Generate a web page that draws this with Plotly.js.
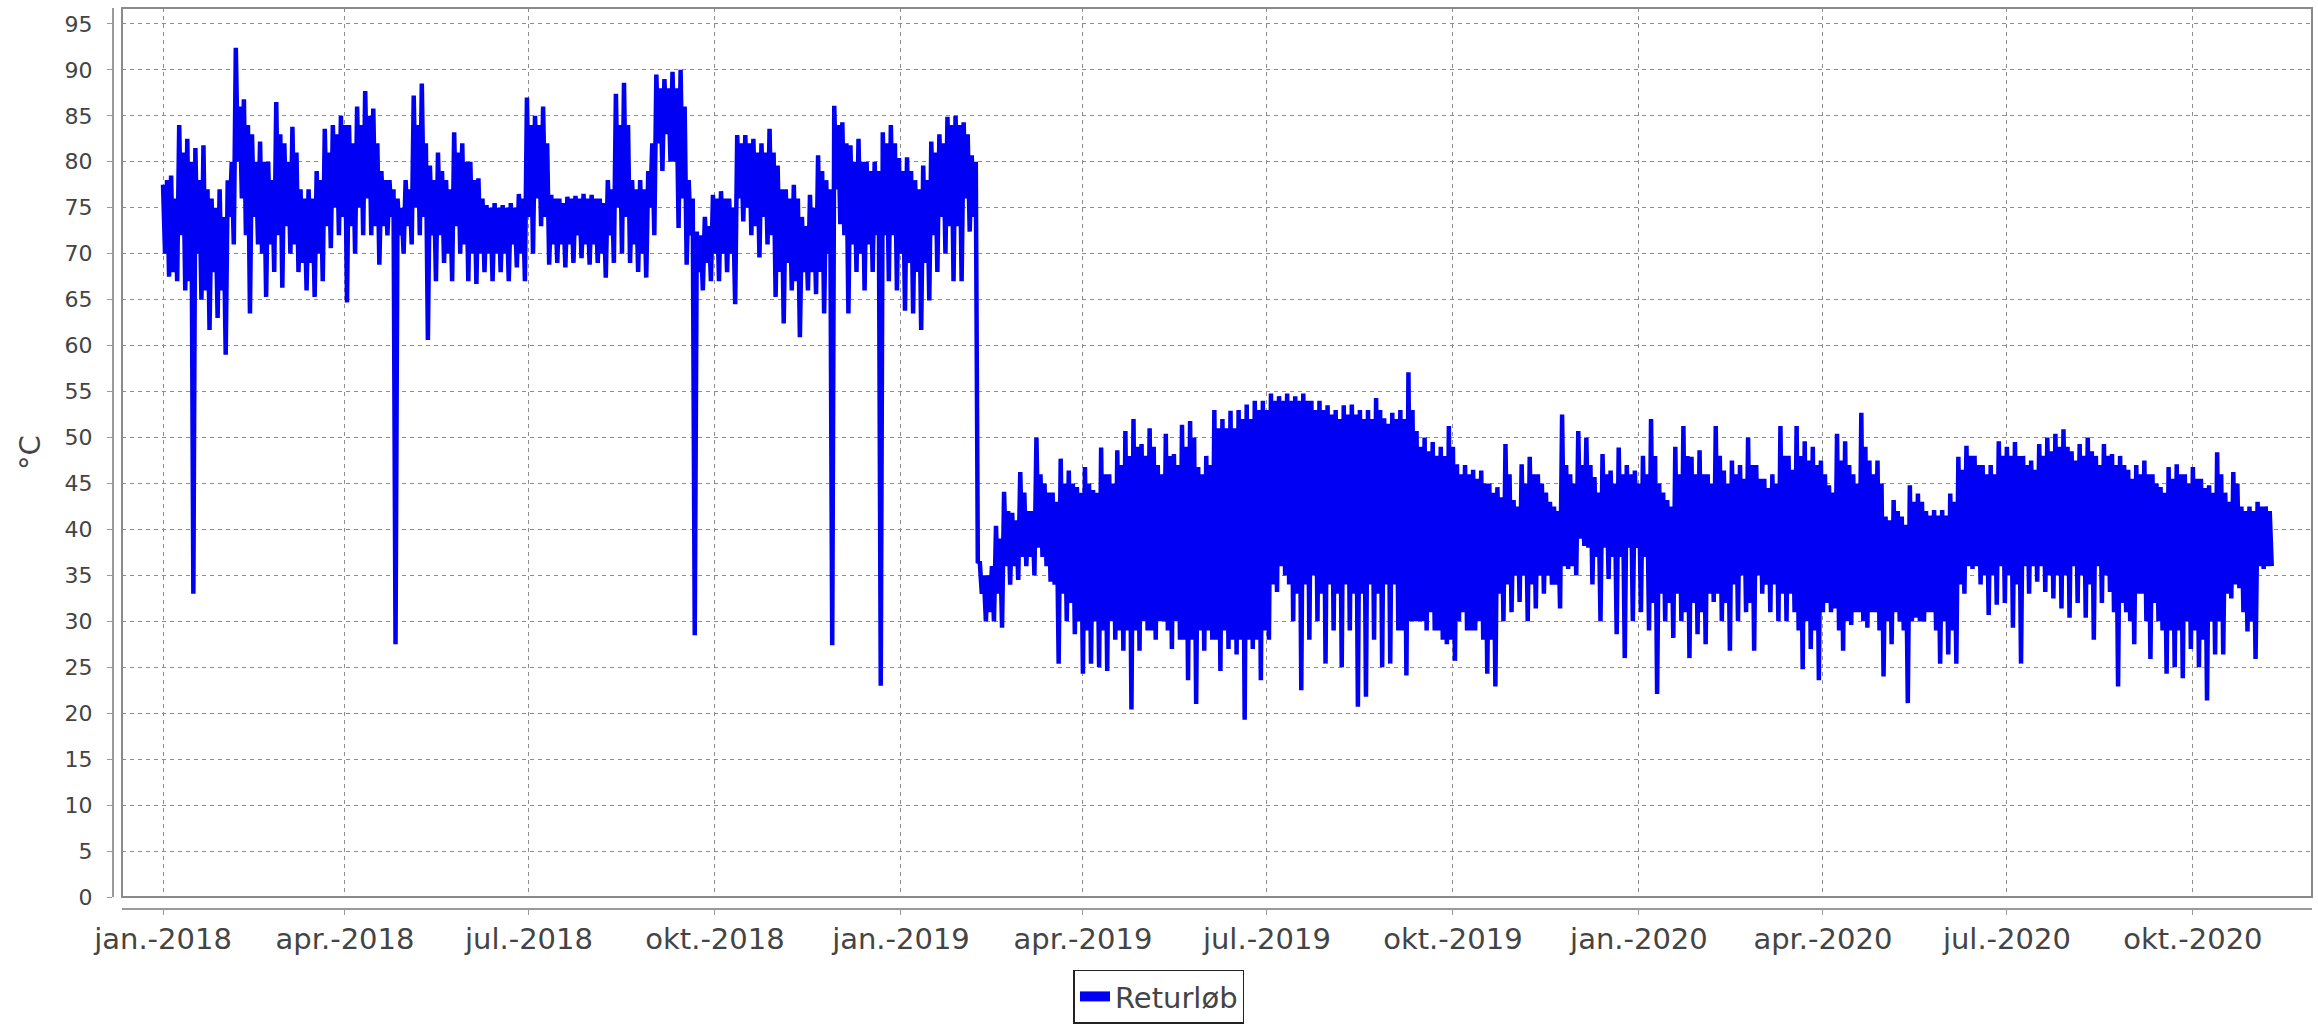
<!DOCTYPE html>
<html>
<head>
<meta charset="utf-8">
<script src="https://cdn.plot.ly/plotly-3.0.1.min.js"></script>
<style>
html, body { margin: 0; padding: 0; background: #ffffff; }
#chart { width: 2318px; height: 1030px; }
</style>
</head>
<body>
<div id="chart"></div>
<script>
// ---------- data ----------
const seriesName = 'Returløb';
const startDate = '2018-01-01';   // first sample
const stepDays = 4;               // each 4-day window: peak, inner low, inner high, dip (one day apart)

// window peaks
const highValues = [
  77.5, 78.5, 84, 82.5, 81.5, 81.8, 76, 77, 78, 92.4,
  86.8, 83, 82.2, 80, 86.5, 82, 83.8, 77, 77, 79,
  83.6, 84, 85, 84, 86, 87.7, 85.8, 79, 78, 76,
  78, 87.2, 88.5, 79.6, 81, 78, 83.2, 82, 80, 78.2,
  75.3, 75.5, 75.3, 75.5, 76.5, 87, 85, 86, 76.4, 76,
  76.2, 76.3, 76.5, 76.4, 76, 78, 87.4, 88.6, 78, 78,
  79, 89.5, 89, 89.8, 90, 78, 72.4, 74, 76.4, 76.8,
  76, 82.9, 82.9, 82.5, 82, 83.6, 79.6, 77, 77.5, 74,
  76.4, 80.7, 78, 86.1, 84.3, 81.8, 82.5, 80, 80, 83.2,
  84, 80.4, 80.5, 78, 79.6, 82.2, 83, 84.9, 85, 84.3,
  80.7, 36.4, 35, 40.4, 44.1, 41.8, 46.25, 42, 50, 45,
  44, 47.7, 46.4, 44.6, 46.8, 44.3, 48.9, 46, 48.6, 50.7,
  52, 49.3, 51, 47, 50.4, 48.2, 51.4, 51.8, 46.8, 48,
  53, 52, 52.9, 53, 53.6, 54, 54, 54.8, 54.5, 54.8,
  54.5, 54.8, 54, 54, 53.5, 53, 53.5, 53.6, 53, 53,
  54.3, 52.1, 52.7, 53, 57.1, 50.7, 50, 49.5, 49, 51.25,
  47.1, 47, 46.5, 46.4, 45, 44.6, 49.3, 43.2, 47.1, 47.9,
  46, 44, 42.5, 52.5, 46, 50.7, 50, 45.7, 48.2, 46.4,
  48.9, 47, 46.4, 48, 52, 45, 43.2, 49, 51.25, 47.9,
  48.6, 46, 51.25, 46.4, 47.5, 47, 50, 47, 45.5, 46,
  51.25, 48, 51.25, 49.6, 49, 47.5, 44.8, 50.4, 49.6, 46,
  52.7, 47.5, 47.5, 41.4, 43.2, 41.4, 44.8, 43.9, 42, 42.1,
  42.1, 43.9, 47.9, 49.1, 48, 47, 47, 49.6, 49, 49.5,
  48, 47.5, 49.3, 50, 50.4, 50.9, 48.5, 49.3, 50, 48,
  49.3, 48.2, 48, 46.5, 47, 47.5, 46, 44.6, 46.8, 47.1,
  46, 46.8, 45.5, 44.8, 48.4, 44, 46.25, 42.5, 42.5, 43, 42.5
];

// lower edge of the solid band inside each window
const innerLowValues = [
  70, 68, 72, 67, 70, 66, 68, 66, 74, 80,
  72, 74, 70, 71, 72, 73, 71, 69, 69, 70,
  73, 75, 74, 73, 75, 76, 73, 73, 74, 72,
  73, 75, 74, 72, 72, 70, 73, 71, 70, 70,
  70, 70, 70, 71, 70, 74, 76, 74, 71, 71,
  71, 72, 71, 71, 70, 72, 75, 74, 71, 70,
  75, 82, 83, 80, 76, 72, 68, 69, 70, 70,
  70, 76, 75, 73, 74, 72, 68, 69, 67, 68,
  68, 68, 70, 77, 72, 71, 70, 71, 72, 72,
  72, 70, 69, 68, 69, 72, 74, 73, 73, 76,
  74, 33, 31, 33, 36, 36, 37, 37, 38, 36,
  34, 33, 32, 30, 29, 30, 29, 30, 29, 29,
  29, 30, 29, 30, 29, 30, 28, 28, 29, 29,
  28, 29, 28, 28, 28, 28, 29, 34, 36, 34,
  33, 34, 35, 33, 34, 33, 34, 33, 33, 34,
  33, 34, 34, 29, 30, 30, 29, 29, 28, 28,
  30, 29, 29, 28, 28, 33, 34, 35, 35, 34,
  35, 35, 34, 36, 36, 39, 38, 37, 38, 37,
  37, 38, 38, 37, 32, 33, 32, 33, 31, 32,
  31, 33, 33, 32, 34, 35, 32, 35, 34, 34,
  33, 33, 29, 30, 29, 31, 31, 29, 30, 31,
  30, 31, 29, 30, 31, 29, 30, 30, 31, 29,
  30, 29, 34, 36, 36, 35, 35, 36, 35, 34,
  36, 36, 36, 35, 35, 35, 36, 35, 34, 36,
  35, 31, 32, 30, 33, 30, 32, 29, 29, 29,
  30, 29, 28, 30, 30, 33, 34, 31, 30, 36, 36
];

// upper edge of the solid band inside each window
const innerHighValues = [
  78, 76, 81, 80, 78, 77, 75, 74, 80, 86,
  84, 80, 80, 78, 83, 80, 81, 76, 76, 78,
  81, 83, 84, 82, 84, 85, 82, 78, 77, 75,
  77, 84, 82, 78, 79, 77, 81, 80, 78, 76,
  75, 75, 75, 75, 76, 84, 84, 82, 76, 75.5,
  76, 76, 76, 76, 75.5, 77, 84, 84, 77, 77,
  82, 88, 88, 88, 86, 76, 72, 73, 76, 76,
  75, 82, 82, 81, 81, 81, 77, 76, 76, 73,
  75, 79, 77, 84, 82, 80, 80, 79, 79, 82,
  82, 79, 79, 77, 78, 81, 82, 84, 84, 83,
  80, 35, 36, 39, 42, 41, 44, 42, 46, 44,
  43, 45, 45, 44, 45, 44, 46, 45, 47, 48,
  49, 48, 49, 46, 48, 47, 49, 50, 46, 47,
  51, 51, 51, 52, 52, 53, 53, 54, 54, 54,
  54, 54, 53, 53, 52.5, 52, 52.5, 52.5, 52, 52,
  53, 51.5, 52, 52, 53, 49, 48.5, 48, 48, 49,
  46, 46, 45.5, 45, 44, 43.5, 46, 42.5, 45, 46,
  45, 43, 42, 47, 45, 47, 47, 44, 46, 45,
  46, 46, 45, 46, 48, 44, 42.5, 46, 48, 46,
  46, 45, 48, 45, 46, 45.5, 47, 45.5, 44.5, 45,
  48, 46.5, 48, 47.5, 47, 46, 44, 47.5, 47, 45,
  49, 46, 45, 41, 42, 40.5, 43, 43, 41.5, 41.5,
  41.5, 43, 46.5, 48, 47, 46, 46, 48, 48, 48,
  47, 46.5, 48, 48.5, 49, 49, 47.5, 48, 48.5, 47,
  48, 47, 47, 45.5, 46, 46, 45, 44, 45.5, 46,
  45, 45.5, 44.5, 44, 46, 43, 45, 42, 42, 42.5, 42
];

// window dips
const lowValues = [
  67.5, 67, 66, 33, 65, 61.7, 63, 59, 71, 76,
  63.5, 71, 65.3, 68, 66.3, 70, 68, 66, 65.3, 67,
  70.6, 72, 64.7, 70, 72, 72, 68.8, 72, 27.5, 70,
  71, 72, 60.6, 67, 69, 67, 70, 67, 66.7, 68,
  67, 68, 67, 68.5, 67, 70, 73, 68.8, 69, 68.5,
  69, 69.5, 68.8, 69, 67.4, 69, 70, 69, 68, 67.4,
  72, 79, 80, 72.8, 68.8, 28.5, 66, 67, 67, 68,
  64.5, 73.5, 72, 69.6, 71, 65.3, 62.4, 66, 60.9, 66,
  65.6, 63.5, 27.4, 73.2, 63.5, 68, 66, 68, 23, 67,
  66, 63.8, 63.5, 61.7, 64.9, 68, 70, 67, 67, 72.4,
  36.5, 30, 30, 29.3, 34, 34.5, 36, 35, 37, 34.3,
  25.4, 30, 28.6, 24.3, 25.4, 25, 24.6, 28, 26.8, 20.4,
  26.8, 29, 28, 30, 27, 28, 23.6, 21, 26.8, 28,
  24.6, 27, 26.4, 19.3, 27, 23.6, 28, 33.2, 35, 30,
  22.5, 28, 30, 25.4, 29, 25, 29, 20.7, 21.8, 28,
  25, 25.4, 29, 24.1, 30, 30, 31, 29, 27.5, 25.7,
  31, 29, 30, 24.3, 22.9, 30, 31, 32.1, 30, 31.4,
  33, 34, 31.4, 35.7, 35, 38.2, 34, 30, 34.6, 28.6,
  26, 30, 31, 29, 22.1, 30, 28.2, 30, 26, 28.6,
  27.5, 32.1, 30, 26.8, 30, 31, 26.8, 33, 31, 30,
  30, 31, 24.8, 27, 23.6, 32, 31.4, 26.8, 29.6, 31,
  29.3, 31, 24, 27.5, 30, 21.1, 30.4, 30, 31, 25.4,
  26.4, 25.4, 33, 35.7, 34, 30.7, 31.8, 32, 29.3, 25.4,
  33, 34.3, 33.2, 32.5, 31.4, 30.4, 32, 30.4, 28, 32,
  33.2, 22.9, 31, 27.5, 33, 25.9, 30, 24.3, 25, 23.8,
  27, 25, 21.4, 26.4, 26.4, 32.5, 33.6, 28.9, 25.9, 35.7, 36
];

const tickDates = ['2018-01-01', '2018-04-01', '2018-07-01', '2018-10-01',
                   '2019-01-01', '2019-04-01', '2019-07-01', '2019-10-01',
                   '2020-01-01', '2020-04-01', '2020-07-01', '2020-10-01'];
const tickLabels = ['jan.-2018', 'apr.-2018', 'jul.-2018', 'okt.-2018',
                    'jan.-2019', 'apr.-2019', 'jul.-2019', 'okt.-2019',
                    'jan.-2020', 'apr.-2020', 'jul.-2020', 'okt.-2020'];

// ---------- build the sample sequence ----------
function dayToDate(dayOffset) {
  const base = new Date(startDate + 'T00:00:00Z').getTime();
  const d = new Date(base + dayOffset * 86400000);
  const p = n => String(n).padStart(2, '0');
  return d.getUTCFullYear() + '-' + p(d.getUTCMonth() + 1) + '-' + p(d.getUTCDate()) +
         ' ' + p(d.getUTCHours()) + ':' + p(d.getUTCMinutes());
}
const xs = [], ys = [];
for (let i = 0; i < highValues.length; i++) {
  const d0 = i * stepDays;
  xs.push(dayToDate(d0));     ys.push(highValues[i]);
  xs.push(dayToDate(d0 + 1)); ys.push(innerLowValues[i]);
  xs.push(dayToDate(d0 + 2)); ys.push(innerHighValues[i]);
  xs.push(dayToDate(d0 + 3)); ys.push(lowValues[i]);
}

const lineColor = 'rgb(0,0,245)';
const traces = [
  { type: 'scatter', mode: 'lines', x: xs, y: ys, name: seriesName, showlegend: false,
    line: { color: lineColor, width: 4.5, simplify: false }, hoverinfo: 'x+y' },
  { type: 'scatter', mode: 'lines', x: [null], y: [null], name: seriesName, showlegend: true,
    line: { color: lineColor, width: 13 } }
];

const gridColor = '#8c8c8c';
const axisColor = '#9a9a9a';
const layout = {
  width: 2318, height: 1030,
  margin: { l: 112, r: 6, t: 8, b: 115, pad: 0 },
  paper_bgcolor: '#ffffff', plot_bgcolor: '#ffffff',
  font: { family: 'DejaVu Sans, sans-serif', color: '#444444' },
  showlegend: true,
  xaxis: {
    type: 'date', domain: [10 / 2200, 1], anchor: 'free', position: 0,
    range: ['2017-12-11 17:00', '2020-11-28 22:00'],
    tickmode: 'array', tickvals: tickDates, ticktext: tickLabels,
    showgrid: true, gridcolor: gridColor, gridwidth: 1, griddash: '4px,4px',
    showline: true, linecolor: axisColor, linewidth: 1.5,
    ticks: 'outside', ticklen: 5, tickcolor: axisColor, tickwidth: 1,
    tickfont: { size: 29, color: '#444444' },
    zeroline: false, fixedrange: true, automargin: false
  },
  yaxis: {
    domain: [11 / 907, 1], anchor: 'free', position: 0,
    range: [0, 96.73], tickmode: 'linear', tick0: 0, dtick: 5,
    showgrid: true, gridcolor: gridColor, gridwidth: 1, griddash: '4px,4px',
    showline: true, linecolor: axisColor, linewidth: 1.5,
    ticks: 'outside', ticklen: 5, tickcolor: axisColor, tickwidth: 1,
    tickfont: { size: 22, color: '#444444' }, ticklabelstandoff: 10,
    title: { text: '°C', font: { size: 29, color: '#444444' }, standoff: 14 },
    zeroline: false, fixedrange: true, automargin: false
  },
  shapes: [
    { type: 'rect', xref: 'x domain', yref: 'y domain', x0: 0, x1: 1, y0: 0, y1: 1,
      line: { color: '#8a8a8a', width: 2 }, fillcolor: 'rgba(0,0,0,0)', layer: 'above' }
  ],
  legend: {
    orientation: 'h', x: 0.4759, xanchor: 'center', y: -0.0684, yanchor: 'top',
    bordercolor: '#222222', borderwidth: 1.5, bgcolor: '#ffffff',
    font: { size: 29, color: '#444444' }, itemwidth: 30
  }
};

Plotly.newPlot('chart', traces, layout, { staticPlot: true, displayModeBar: false });
</script>
</body>
</html>
